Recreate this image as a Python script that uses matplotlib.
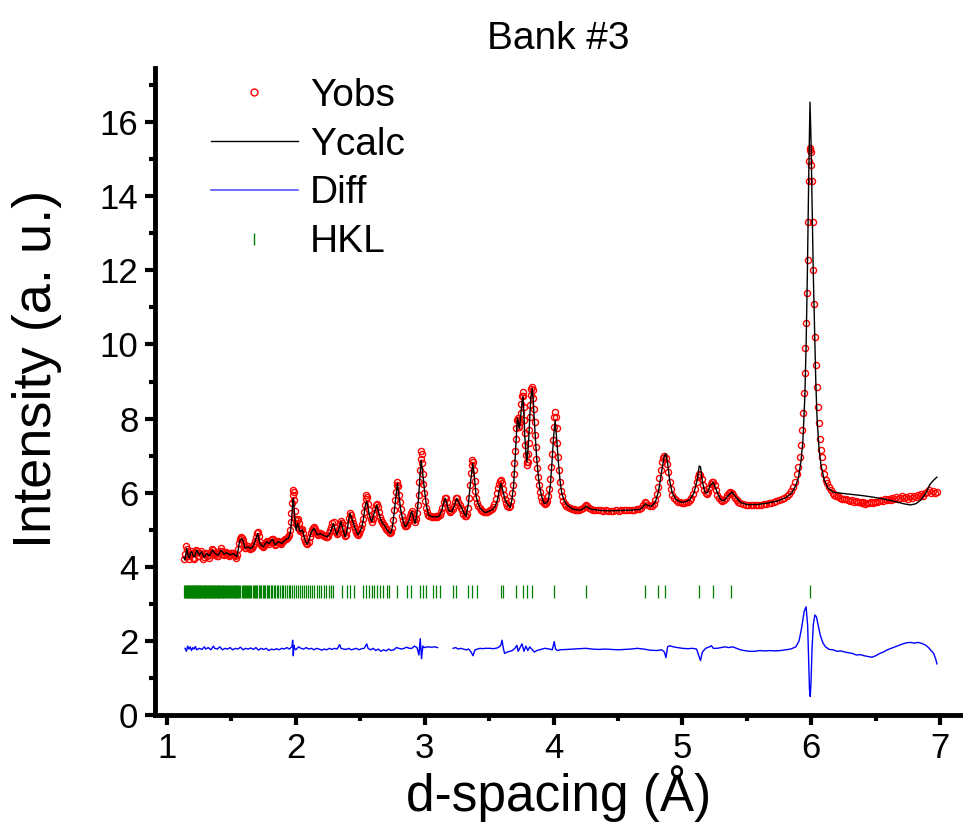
import matplotlib

matplotlib.use("Agg")
import matplotlib.pyplot as plt
import numpy as np
from matplotlib.lines import Line2D
from matplotlib.ticker import MultipleLocator

obs_points = [
    (1.130, 4.22), (1.138, 4.35), (1.146, 4.55), (1.154, 4.48), (1.162, 4.28), (1.170, 4.20),
    (1.178, 4.33), (1.186, 4.42), (1.194, 4.38), (1.202, 4.25), (1.210, 4.22), (1.218, 4.38),
    (1.226, 4.45), (1.234, 4.42), (1.242, 4.30), (1.250, 4.28), (1.258, 4.38), (1.266, 4.44),
    (1.274, 4.35), (1.282, 4.22), (1.290, 4.26), (1.298, 4.34), (1.306, 4.38), (1.314, 4.30),
    (1.322, 4.25), (1.330, 4.32), (1.338, 4.40), (1.346, 4.48), (1.354, 4.46), (1.362, 4.38),
    (1.370, 4.32), (1.378, 4.36), (1.386, 4.30), (1.394, 4.28), (1.402, 4.36), (1.410, 4.44),
    (1.418, 4.50), (1.426, 4.42), (1.434, 4.35), (1.442, 4.32), (1.450, 4.38), (1.458, 4.40),
    (1.466, 4.36), (1.474, 4.34), (1.482, 4.30), (1.490, 4.33), (1.498, 4.37), (1.506, 4.36),
    (1.514, 4.38), (1.522, 4.32), (1.530, 4.28), (1.538, 4.25), (1.546, 4.32), (1.553, 4.48),
    (1.560, 4.65), (1.567, 4.76), (1.574, 4.80), (1.581, 4.78), (1.588, 4.72), (1.595, 4.62),
    (1.602, 4.52), (1.610, 4.50), (1.618, 4.55), (1.626, 4.56), (1.634, 4.52), (1.642, 4.48),
    (1.650, 4.50), (1.658, 4.52), (1.666, 4.56), (1.674, 4.62), (1.682, 4.70), (1.690, 4.80),
    (1.697, 4.92), (1.704, 4.95), (1.711, 4.82), (1.718, 4.68), (1.726, 4.60), (1.734, 4.56),
    (1.742, 4.54), (1.750, 4.56), (1.758, 4.62), (1.766, 4.68), (1.774, 4.70), (1.782, 4.66),
    (1.790, 4.62), (1.798, 4.66), (1.806, 4.72), (1.814, 4.76), (1.822, 4.75), (1.830, 4.66),
    (1.838, 4.60), (1.846, 4.62), (1.854, 4.66), (1.862, 4.70), (1.870, 4.68), (1.878, 4.64),
    (1.886, 4.62), (1.894, 4.66), (1.902, 4.70), (1.910, 4.73), (1.918, 4.74), (1.926, 4.76),
    (1.934, 4.78), (1.942, 4.80), (1.950, 4.86), (1.956, 4.98), (1.962, 5.20), (1.966, 5.45),
    (1.970, 5.72), (1.974, 5.95), (1.978, 6.07), (1.982, 6.02), (1.986, 5.80), (1.990, 5.50),
    (1.994, 5.30), (1.999, 5.18), (2.004, 5.15), (2.010, 5.26), (2.016, 5.30), (2.022, 5.18),
    (2.028, 5.02), (2.035, 4.96), (2.042, 5.00), (2.050, 5.02), (2.058, 4.90), (2.066, 4.78),
    (2.074, 4.70), (2.082, 4.64), (2.090, 4.62), (2.098, 4.68), (2.106, 4.80), (2.114, 4.92),
    (2.122, 5.00), (2.130, 5.05), (2.138, 5.08), (2.146, 5.02), (2.154, 4.94), (2.162, 4.88),
    (2.170, 4.86), (2.180, 4.90), (2.190, 4.92), (2.200, 4.88), (2.210, 4.85), (2.220, 4.82),
    (2.230, 4.80), (2.240, 4.80), (2.250, 4.84), (2.260, 4.90), (2.268, 4.98), (2.276, 5.08),
    (2.284, 5.18), (2.292, 5.20), (2.300, 5.08), (2.308, 4.95), (2.316, 4.88), (2.324, 4.92),
    (2.332, 5.02), (2.340, 5.15), (2.348, 5.24), (2.356, 5.18), (2.364, 5.02), (2.372, 4.90),
    (2.380, 4.82), (2.388, 4.86), (2.396, 4.98), (2.404, 5.12), (2.412, 5.32), (2.420, 5.46),
    (2.428, 5.40), (2.436, 5.28), (2.444, 5.18), (2.452, 5.10), (2.460, 5.02), (2.468, 4.94),
    (2.476, 4.88), (2.484, 4.87), (2.492, 4.92), (2.500, 4.98), (2.508, 5.06), (2.516, 5.15),
    (2.524, 5.30), (2.530, 5.48), (2.536, 5.66), (2.542, 5.84), (2.548, 5.94), (2.554, 5.88),
    (2.560, 5.70), (2.566, 5.52), (2.572, 5.38), (2.580, 5.28), (2.588, 5.22), (2.596, 5.30),
    (2.604, 5.44), (2.612, 5.56), (2.620, 5.66), (2.628, 5.70), (2.636, 5.62), (2.644, 5.48),
    (2.652, 5.34), (2.660, 5.26), (2.668, 5.20), (2.676, 5.16), (2.684, 5.14), (2.692, 5.08),
    (2.700, 5.02), (2.710, 4.98), (2.720, 4.94), (2.730, 4.92), (2.740, 4.95), (2.748, 5.05),
    (2.756, 5.25), (2.764, 5.52), (2.770, 5.80), (2.776, 6.02), (2.782, 6.20), (2.788, 6.29),
    (2.794, 6.18), (2.800, 5.95), (2.806, 5.74), (2.812, 5.56), (2.820, 5.38), (2.828, 5.25),
    (2.836, 5.15), (2.844, 5.10), (2.852, 5.10), (2.860, 5.14), (2.868, 5.20), (2.876, 5.28),
    (2.884, 5.38), (2.892, 5.46), (2.900, 5.50), (2.908, 5.42), (2.916, 5.28), (2.924, 5.20),
    (2.932, 5.28), (2.940, 5.45), (2.946, 5.68), (2.952, 5.95), (2.958, 6.30), (2.963, 6.62),
    (2.968, 6.92), (2.972, 7.13), (2.976, 7.05), (2.980, 6.80), (2.985, 6.50), (2.990, 6.24),
    (2.996, 5.98), (3.002, 5.78), (3.010, 5.60), (3.018, 5.48), (3.026, 5.40), (3.036, 5.36),
    (3.046, 5.36), (3.056, 5.34), (3.066, 5.35), (3.076, 5.34), (3.086, 5.36), (3.096, 5.35),
    (3.106, 5.36), (3.116, 5.40), (3.126, 5.48), (3.136, 5.60), (3.146, 5.76), (3.154, 5.86),
    (3.162, 5.86), (3.170, 5.74), (3.178, 5.60), (3.186, 5.52), (3.196, 5.49), (3.206, 5.50),
    (3.216, 5.55), (3.226, 5.64), (3.236, 5.76), (3.246, 5.86), (3.254, 5.85), (3.262, 5.76),
    (3.270, 5.66), (3.280, 5.58), (3.290, 5.52), (3.300, 5.42), (3.310, 5.36), (3.318, 5.36),
    (3.326, 5.42), (3.334, 5.60), (3.342, 5.86), (3.350, 6.20), (3.357, 6.52), (3.364, 6.76),
    (3.370, 6.88), (3.376, 6.82), (3.382, 6.60), (3.388, 6.32), (3.394, 6.05), (3.400, 5.86),
    (3.408, 5.72), (3.416, 5.64), (3.426, 5.58), (3.436, 5.54), (3.448, 5.50), (3.460, 5.48),
    (3.472, 5.47), (3.484, 5.48), (3.496, 5.50), (3.508, 5.53), (3.520, 5.56), (3.530, 5.62),
    (3.540, 5.70), (3.550, 5.82), (3.558, 5.98), (3.566, 6.12), (3.574, 6.24), (3.582, 6.32),
    (3.590, 6.34), (3.598, 6.26), (3.606, 6.10), (3.614, 5.94), (3.622, 5.82), (3.632, 5.72),
    (3.642, 5.65), (3.652, 5.62), (3.662, 5.64), (3.670, 5.78), (3.678, 5.98), (3.684, 6.22),
    (3.690, 6.50), (3.695, 6.80), (3.700, 7.12), (3.705, 7.45), (3.710, 7.75), (3.715, 7.96),
    (3.720, 8.02), (3.725, 7.95), (3.730, 7.80), (3.735, 7.78), (3.740, 7.92), (3.745, 8.15),
    (3.750, 8.40), (3.755, 8.60), (3.760, 8.72), (3.765, 8.62), (3.770, 8.30), (3.774, 7.95),
    (3.778, 7.60), (3.782, 7.28), (3.786, 7.02), (3.790, 6.82), (3.794, 6.74), (3.798, 6.82),
    (3.802, 7.05), (3.806, 7.35), (3.810, 7.70), (3.814, 8.05), (3.818, 8.38), (3.822, 8.64),
    (3.827, 8.80), (3.832, 8.86), (3.837, 8.78), (3.842, 8.55), (3.847, 8.25), (3.852, 7.90),
    (3.857, 7.55), (3.862, 7.22), (3.867, 6.92), (3.872, 6.66), (3.878, 6.42), (3.885, 6.20),
    (3.893, 6.02), (3.902, 5.88), (3.912, 5.78), (3.922, 5.72), (3.932, 5.70), (3.942, 5.72),
    (3.952, 5.78), (3.960, 5.90), (3.968, 6.10), (3.975, 6.38), (3.982, 6.70), (3.988, 7.05),
    (3.994, 7.42), (4.000, 7.78), (4.006, 8.05), (4.012, 8.18), (4.018, 8.05), (4.024, 7.75),
    (4.030, 7.35), (4.036, 6.95), (4.042, 6.60), (4.050, 6.28), (4.058, 6.05), (4.066, 5.90),
    (4.076, 5.78), (4.086, 5.70), (4.098, 5.65), (4.110, 5.61), (4.125, 5.58), (4.140, 5.56),
    (4.155, 5.55), (4.170, 5.54), (4.185, 5.54), (4.200, 5.54), (4.215, 5.55), (4.230, 5.58),
    (4.242, 5.63), (4.252, 5.66), (4.262, 5.64), (4.274, 5.59), (4.288, 5.56), (4.305, 5.54),
    (4.325, 5.53), (4.345, 5.52), (4.365, 5.52), (4.385, 5.51), (4.405, 5.52), (4.425, 5.51),
    (4.445, 5.50), (4.465, 5.51), (4.485, 5.52), (4.505, 5.51), (4.525, 5.52), (4.545, 5.52),
    (4.565, 5.53), (4.585, 5.52), (4.605, 5.53), (4.625, 5.54), (4.645, 5.55), (4.665, 5.56),
    (4.680, 5.60), (4.695, 5.68), (4.708, 5.74), (4.720, 5.72), (4.735, 5.66), (4.750, 5.63),
    (4.765, 5.64), (4.778, 5.70), (4.790, 5.80), (4.800, 5.96), (4.810, 6.16), (4.820, 6.40),
    (4.830, 6.62), (4.840, 6.82), (4.850, 6.94), (4.860, 6.98), (4.870, 6.94), (4.880, 6.78),
    (4.890, 6.55), (4.900, 6.30), (4.910, 6.10), (4.922, 5.95), (4.935, 5.85), (4.950, 5.80),
    (4.965, 5.76), (4.980, 5.74), (4.995, 5.72), (5.010, 5.72), (5.025, 5.74), (5.040, 5.76),
    (5.055, 5.80), (5.070, 5.86), (5.085, 5.96), (5.098, 6.10), (5.110, 6.28), (5.120, 6.42),
    (5.130, 6.50), (5.140, 6.48), (5.150, 6.36), (5.160, 6.20), (5.170, 6.06), (5.180, 5.98),
    (5.190, 5.96), (5.200, 6.02), (5.210, 6.14), (5.220, 6.24), (5.230, 6.29), (5.240, 6.28),
    (5.250, 6.20), (5.260, 6.08), (5.272, 5.95), (5.285, 5.86), (5.298, 5.80), (5.310, 5.78),
    (5.322, 5.80), (5.335, 5.86), (5.348, 5.94), (5.360, 6.00), (5.372, 6.02), (5.384, 6.00),
    (5.396, 5.94), (5.408, 5.86), (5.420, 5.80), (5.435, 5.75), (5.450, 5.72), (5.470, 5.70),
    (5.490, 5.68), (5.510, 5.67), (5.530, 5.66), (5.550, 5.67), (5.570, 5.67), (5.590, 5.68),
    (5.610, 5.68), (5.630, 5.69), (5.650, 5.70), (5.670, 5.71), (5.690, 5.73), (5.710, 5.75),
    (5.730, 5.77), (5.750, 5.80), (5.770, 5.83), (5.790, 5.86), (5.810, 5.90), (5.828, 5.96),
    (5.845, 6.04), (5.860, 6.15), (5.875, 6.30), (5.890, 6.50), (5.900, 6.70), (5.910, 6.96),
    (5.920, 7.30), (5.928, 7.70), (5.935, 8.15), (5.942, 8.70), (5.949, 9.22), (5.955, 9.90),
    (5.961, 10.58), (5.967, 11.40), (5.972, 12.28), (5.977, 13.30), (5.981, 14.40), (5.985, 14.95),
    (5.989, 15.25), (5.993, 15.30), (5.997, 15.20), (6.001, 14.85), (6.006, 14.40), (6.011, 13.30),
    (6.016, 12.00), (6.022, 11.10), (6.028, 10.20), (6.035, 9.45), (6.042, 8.85), (6.050, 8.30),
    (6.058, 7.88), (6.066, 7.45), (6.074, 7.15), (6.082, 6.96), (6.092, 6.70), (6.102, 6.50),
    (6.112, 6.35), (6.122, 6.26), (6.135, 6.15), (6.150, 6.06), (6.165, 5.98), (6.180, 5.94),
    (6.195, 5.92), (6.210, 5.90), (6.225, 5.86), (6.240, 5.84), (6.255, 5.82), (6.270, 5.84),
    (6.285, 5.80), (6.300, 5.78), (6.315, 5.80), (6.330, 5.76), (6.345, 5.78), (6.360, 5.74),
    (6.375, 5.76), (6.390, 5.72), (6.405, 5.74), (6.420, 5.70), (6.435, 5.73), (6.450, 5.71),
    (6.465, 5.75), (6.480, 5.72), (6.495, 5.76), (6.510, 5.74), (6.525, 5.78), (6.540, 5.80),
    (6.555, 5.77), (6.570, 5.82), (6.585, 5.80), (6.600, 5.84), (6.615, 5.81), (6.630, 5.86),
    (6.645, 5.83), (6.660, 5.88), (6.675, 5.84), (6.690, 5.86), (6.705, 5.90), (6.720, 5.86),
    (6.735, 5.88), (6.750, 5.84), (6.765, 5.90), (6.780, 5.87), (6.795, 5.92), (6.810, 5.88),
    (6.825, 5.94), (6.840, 5.90), (6.855, 5.96), (6.870, 5.92), (6.885, 5.98), (6.900, 6.02),
    (6.915, 6.06), (6.930, 6.00), (6.945, 6.04), (6.960, 5.98), (6.975, 6.02),
]

# calculated profile
calc_points = [
    (1.130, 4.25), (1.140, 4.18), (1.153, 4.50), (1.163, 4.30), (1.173, 4.24), (1.182, 4.38),
    (1.192, 4.41), (1.202, 4.30), (1.212, 4.27), (1.222, 4.36), (1.231, 4.45), (1.241, 4.38),
    (1.251, 4.32), (1.260, 4.36), (1.269, 4.41), (1.278, 4.33), (1.287, 4.25), (1.298, 4.31),
    (1.308, 4.36), (1.318, 4.33), (1.328, 4.29), (1.340, 4.37), (1.352, 4.45), (1.362, 4.41),
    (1.373, 4.36), (1.386, 4.33), (1.398, 4.32), (1.408, 4.38), (1.419, 4.45), (1.431, 4.40),
    (1.443, 4.34), (1.453, 4.36), (1.463, 4.38), (1.476, 4.35), (1.489, 4.32), (1.502, 4.34),
    (1.515, 4.36), (1.528, 4.32), (1.541, 4.27), (1.552, 4.45), (1.560, 4.62), (1.567, 4.72),
    (1.578, 4.76), (1.588, 4.72), (1.597, 4.60), (1.606, 4.50), (1.618, 4.52), (1.631, 4.54),
    (1.645, 4.50), (1.658, 4.50), (1.670, 4.58), (1.683, 4.68), (1.694, 4.80), (1.704, 4.90),
    (1.713, 4.75), (1.722, 4.63), (1.735, 4.57), (1.748, 4.54), (1.761, 4.62), (1.774, 4.68),
    (1.784, 4.64), (1.794, 4.63), (1.807, 4.70), (1.820, 4.74), (1.830, 4.65), (1.839, 4.59),
    (1.852, 4.64), (1.864, 4.68), (1.878, 4.65), (1.891, 4.63), (1.904, 4.68), (1.916, 4.72),
    (1.929, 4.75), (1.942, 4.77), (1.952, 4.85), (1.960, 4.99), (1.967, 5.30), (1.973, 5.62),
    (1.977, 5.80), (1.981, 5.85), (1.986, 5.60), (1.991, 5.35), (1.997, 5.10), (2.002, 4.99),
    (2.008, 5.10), (2.015, 5.17), (2.024, 5.05), (2.033, 4.95), (2.042, 4.98), (2.051, 4.99),
    (2.061, 4.85), (2.071, 4.72), (2.080, 4.65), (2.089, 4.61), (2.102, 4.72), (2.116, 4.90),
    (2.128, 4.98), (2.141, 5.04), (2.154, 4.95), (2.167, 4.86), (2.178, 4.88), (2.188, 4.90),
    (2.214, 4.85), (2.240, 4.81), (2.256, 4.86), (2.271, 4.95), (2.282, 5.08), (2.291, 5.17),
    (2.305, 5.00), (2.318, 4.86), (2.334, 5.02), (2.349, 5.22), (2.366, 5.00), (2.382, 4.81),
    (2.391, 4.90), (2.400, 5.04), (2.411, 5.30), (2.421, 5.44), (2.434, 5.30), (2.447, 5.17),
    (2.464, 5.00), (2.481, 4.86), (2.497, 4.95), (2.512, 5.08), (2.525, 5.30), (2.537, 5.62),
    (2.544, 5.72), (2.550, 5.76), (2.559, 5.62), (2.568, 5.44), (2.578, 5.30), (2.589, 5.22),
    (2.608, 5.45), (2.628, 5.67), (2.644, 5.45), (2.659, 5.26), (2.672, 5.18), (2.685, 5.13),
    (2.698, 5.05), (2.710, 4.99), (2.724, 4.93), (2.737, 4.90), (2.750, 5.10), (2.762, 5.44),
    (2.775, 5.85), (2.788, 6.25), (2.801, 5.90), (2.814, 5.53), (2.831, 5.25), (2.848, 5.08),
    (2.864, 5.15), (2.879, 5.26), (2.890, 5.40), (2.900, 5.49), (2.912, 5.32), (2.925, 5.17),
    (2.938, 5.40), (2.951, 5.80), (2.962, 6.40), (2.972, 6.88), (2.985, 6.50), (2.998, 6.07),
    (3.013, 5.65), (3.029, 5.40), (3.048, 5.36), (3.068, 5.35), (3.088, 5.35), (3.107, 5.35),
    (3.120, 5.42), (3.133, 5.53), (3.146, 5.72), (3.159, 5.85), (3.172, 5.70), (3.184, 5.53),
    (3.197, 5.50), (3.210, 5.49), (3.230, 5.65), (3.249, 5.85), (3.268, 5.70), (3.288, 5.58),
    (3.305, 5.45), (3.320, 5.36), (3.339, 5.71), (3.356, 6.30), (3.373, 6.79), (3.386, 6.40),
    (3.399, 5.89), (3.415, 5.70), (3.430, 5.58), (3.469, 5.46), (3.521, 5.53), (3.545, 5.62),
    (3.564, 5.80), (3.578, 6.05), (3.591, 6.25), (3.607, 6.05), (3.624, 5.80), (3.644, 5.68),
    (3.663, 5.60), (3.676, 5.80), (3.689, 6.16), (3.704, 7.06), (3.712, 7.60), (3.720, 8.01),
    (3.728, 7.85), (3.735, 7.74), (3.743, 8.00), (3.751, 8.32), (3.757, 8.50), (3.762, 8.59),
    (3.770, 8.10), (3.777, 7.51), (3.785, 7.10), (3.793, 6.83), (3.800, 7.10), (3.808, 7.51),
    (3.816, 8.10), (3.824, 8.59), (3.834, 8.81), (3.842, 8.50), (3.849, 8.05), (3.860, 7.40),
    (3.870, 6.88), (3.883, 6.40), (3.896, 6.07), (3.912, 5.85), (3.927, 5.71), (3.944, 5.72),
    (3.960, 5.80), (3.975, 6.20), (3.987, 6.79), (4.000, 7.50), (4.012, 7.96), (4.025, 7.40),
    (4.038, 6.79), (4.051, 6.30), (4.064, 5.98), (4.083, 5.78), (4.103, 5.67), (4.130, 5.60),
    (4.155, 5.55), (4.207, 5.53), (4.232, 5.57), (4.253, 5.64), (4.275, 5.58), (4.297, 5.55),
    (4.370, 5.52), (4.439, 5.51), (4.520, 5.52), (4.600, 5.53), (4.672, 5.55), (4.695, 5.62),
    (4.710, 5.70), (4.730, 5.66), (4.760, 5.63), (4.790, 5.75), (4.815, 6.05), (4.840, 6.60),
    (4.860, 7.00), (4.870, 7.05), (4.885, 6.80), (4.900, 6.35), (4.920, 6.00), (4.950, 5.82),
    (4.990, 5.74), (5.030, 5.76), (5.060, 5.82), (5.090, 6.00), (5.115, 6.35), (5.130, 6.72),
    (5.140, 6.70), (5.155, 6.30), (5.175, 6.00), (5.195, 6.00), (5.215, 6.20), (5.240, 6.28),
    (5.265, 6.05), (5.295, 5.82), (5.320, 5.78), (5.350, 5.90), (5.385, 6.02), (5.415, 5.88),
    (5.450, 5.74), (5.500, 5.68), (5.580, 5.68), (5.660, 5.72), (5.740, 5.78), (5.800, 5.86),
    (5.850, 6.00), (5.880, 6.20), (5.900, 6.40), (5.920, 6.85), (5.935, 7.40), (5.950, 8.60),
    (5.960, 10.00), (5.970, 12.00), (5.980, 14.50), (5.990, 16.54), (5.998, 15.50), (6.006, 13.80),
    (6.015, 12.00), (6.025, 10.50), (6.035, 9.00), (6.045, 8.00), (6.060, 7.20), (6.075, 6.75),
    (6.100, 6.35), (6.130, 6.12), (6.170, 6.02), (6.220, 5.99), (6.300, 5.96), (6.400, 5.92),
    (6.480, 5.88), (6.560, 5.83), (6.640, 5.77), (6.720, 5.70), (6.770, 5.67), (6.810, 5.70),
    (6.850, 5.80), (6.890, 6.00), (6.920, 6.22), (6.950, 6.34), (6.975, 6.42),
]

# difference curve (offset), NaN marks the gap in the trace
diff_points = [
    (1.14, 1.80), (1.15, 1.72), (1.16, 1.86), (1.17, 1.78), (1.18, 1.84), (1.19, 1.74),
    (1.20, 1.82), (1.21, 1.78), (1.22, 1.85), (1.23, 1.76), (1.25, 1.80), (1.27, 1.77),
    (1.29, 1.84), (1.30, 1.78), (1.32, 1.82), (1.34, 1.76), (1.36, 1.86), (1.37, 1.80),
    (1.39, 1.78), (1.41, 1.84), (1.43, 1.76), (1.45, 1.80), (1.47, 1.78), (1.49, 1.82),
    (1.51, 1.76), (1.53, 1.80), (1.55, 1.78), (1.57, 1.83), (1.59, 1.76), (1.61, 1.80),
    (1.63, 1.78), (1.65, 1.81), (1.67, 1.77), (1.69, 1.82), (1.71, 1.75), (1.73, 1.80),
    (1.75, 1.77), (1.77, 1.80), (1.79, 1.74), (1.81, 1.78), (1.83, 1.76), (1.85, 1.79),
    (1.87, 1.76), (1.89, 1.80), (1.91, 1.78), (1.93, 1.82), (1.95, 1.78), (1.97, 1.85),
    (1.975, 2.02), (1.980, 1.60), (1.985, 1.88), (1.99, 1.80), (2.00, 1.76), (2.02, 1.84),
    (2.04, 1.80), (2.06, 1.78), (2.08, 1.82), (2.10, 1.78), (2.12, 1.80), (2.14, 1.76),
    (2.16, 1.80), (2.18, 1.78), (2.20, 1.75), (2.22, 1.78), (2.24, 1.76), (2.26, 1.80),
    (2.28, 1.77), (2.30, 1.80), (2.32, 1.78), (2.34, 1.90), (2.35, 1.80), (2.37, 1.78),
    (2.39, 1.77), (2.41, 1.80), (2.43, 1.76), (2.45, 1.78), (2.47, 1.80), (2.49, 1.76),
    (2.51, 1.79), (2.53, 1.80), (2.55, 1.92), (2.56, 1.80), (2.58, 1.76), (2.60, 1.80),
    (2.62, 1.74), (2.64, 1.78), (2.66, 1.72), (2.68, 1.76), (2.70, 1.73), (2.72, 1.78),
    (2.74, 1.74), (2.76, 1.76), (2.78, 1.82), (2.80, 1.80), (2.82, 1.78), (2.84, 1.80),
    (2.86, 1.83), (2.88, 1.80), (2.90, 1.80), (2.92, 1.86), (2.940, 1.82), (2.955, 1.62),
    (2.965, 2.06), (2.975, 1.52), (2.985, 1.86), (2.995, 1.82), (3.02, 1.84), (3.05, 1.83),
    (3.08, 1.84), (3.10, 1.82), (3.16, np.nan), (3.22, 1.80), (3.24, 1.82), (3.26, 1.78),
    (3.28, 1.80), (3.30, 1.78), (3.32, 1.76), (3.34, 1.78), (3.36, 1.70), (3.375, 1.60),
    (3.39, 1.76), (3.41, 1.78), (3.43, 1.80), (3.45, 1.79), (3.47, 1.80), (3.49, 1.80),
    (3.51, 1.80), (3.53, 1.79), (3.55, 1.80), (3.57, 1.82), (3.59, 1.88), (3.600, 2.02),
    (3.610, 1.80), (3.62, 1.66), (3.64, 1.70), (3.66, 1.72), (3.68, 1.74), (3.70, 1.80),
    (3.715, 1.88), (3.725, 1.72), (3.74, 1.82), (3.755, 1.92), (3.77, 1.72), (3.785, 1.86),
    (3.80, 1.74), (3.815, 1.84), (3.83, 1.78), (3.85, 1.70), (3.87, 1.74), (3.89, 1.76),
    (3.91, 1.78), (3.93, 1.80), (3.95, 1.79), (3.97, 1.78), (3.99, 1.76), (4.005, 1.98),
    (4.015, 1.78), (4.03, 1.74), (4.05, 1.76), (4.10, 1.77), (4.15, 1.78), (4.20, 1.79),
    (4.25, 1.80), (4.30, 1.78), (4.35, 1.77), (4.40, 1.78), (4.45, 1.77), (4.50, 1.76),
    (4.55, 1.77), (4.60, 1.78), (4.65, 1.80), (4.70, 1.78), (4.75, 1.75), (4.80, 1.74),
    (4.84, 1.76), (4.860, 1.70), (4.872, 1.55), (4.885, 1.84), (4.90, 1.87), (4.93, 1.84),
    (4.96, 1.82), (5.00, 1.80), (5.04, 1.79), (5.08, 1.80), (5.11, 1.78), (5.125, 1.62),
    (5.140, 1.47), (5.155, 1.70), (5.18, 1.80), (5.21, 1.84), (5.225, 1.87), (5.24, 1.80),
    (5.27, 1.80), (5.30, 1.82), (5.33, 1.84), (5.36, 1.82), (5.39, 1.84), (5.42, 1.80),
    (5.45, 1.76), (5.48, 1.74), (5.52, 1.72), (5.56, 1.72), (5.60, 1.74), (5.64, 1.73),
    (5.68, 1.74), (5.72, 1.73), (5.76, 1.74), (5.80, 1.76), (5.84, 1.78), (5.88, 1.84),
    (5.905, 2.00), (5.925, 2.35), (5.945, 2.80), (5.960, 2.92), (5.972, 2.40), (5.980, 1.40),
    (5.986, 0.70), (5.992, 0.50), (5.998, 0.90), (6.006, 1.80), (6.016, 2.45), (6.028, 2.70),
    (6.040, 2.65), (6.055, 2.40), (6.070, 2.15), (6.090, 1.95), (6.110, 1.84), (6.140, 1.77),
    (6.170, 1.76), (6.200, 1.72), (6.230, 1.73), (6.260, 1.70), (6.290, 1.68), (6.320, 1.66),
    (6.350, 1.62), (6.380, 1.63), (6.410, 1.60), (6.440, 1.58), (6.470, 1.56), (6.500, 1.60),
    (6.530, 1.66), (6.560, 1.70), (6.590, 1.76), (6.620, 1.80), (6.650, 1.84), (6.680, 1.88),
    (6.710, 1.92), (6.740, 1.95), (6.770, 1.96), (6.800, 1.94), (6.830, 1.96), (6.860, 1.93),
    (6.890, 1.88), (6.910, 1.82), (6.930, 1.74), (6.950, 1.66), (6.965, 1.52), (6.975, 1.38),
]

# reflection positions
hkl_d = [
    1.135, 1.140, 1.146, 1.151, 1.156, 1.160, 1.165, 1.171, 1.176, 1.180, 1.186, 1.191,
    1.196, 1.201, 1.206, 1.211, 1.217, 1.222, 1.227, 1.232, 1.238, 1.243, 1.248, 1.254,
    1.259, 1.265, 1.270, 1.276, 1.281, 1.287, 1.292, 1.298, 1.304, 1.309, 1.315, 1.321,
    1.327, 1.332, 1.338, 1.344, 1.350, 1.356, 1.362, 1.368, 1.374, 1.380, 1.387, 1.393,
    1.399, 1.406, 1.412, 1.419, 1.425, 1.432, 1.438, 1.445, 1.452, 1.459, 1.466, 1.473,
    1.480, 1.487, 1.494, 1.501, 1.509, 1.516, 1.524, 1.531, 1.539, 1.546, 1.554, 1.562,
    1.570, 1.578, 1.586, 1.594, 1.603, 1.611, 1.620, 1.628, 1.637, 1.646, 1.655, 1.664,
    1.673, 1.683, 1.692, 1.702, 1.711, 1.721, 1.731, 1.742, 1.752, 1.763, 1.773, 1.784,
    1.795, 1.806, 1.818, 1.829, 1.841, 1.853, 1.865, 1.878, 1.890, 1.903, 1.916, 1.930,
    1.943, 1.957, 1.971, 1.985, 2.000, 2.015, 2.030, 2.045, 2.061, 2.077, 2.093, 2.110,
    2.127, 2.144, 2.162, 2.180, 2.198, 2.217, 2.236, 2.255, 2.275, 2.291, 2.356, 2.395,
    2.421, 2.452, 2.524, 2.545, 2.566, 2.589, 2.607, 2.628, 2.654, 2.680, 2.706, 2.726,
    2.788, 2.861, 2.894, 2.964, 2.985, 3.006, 3.068, 3.089, 3.115, 3.218, 3.244, 3.339,
    3.366, 3.409, 3.591, 3.606, 3.710, 3.762, 3.797, 3.831, 4.005, 4.253, 4.706, 4.810,
    4.861, 5.130, 5.234, 5.377, 5.987,
]
hkl_low, hkl_high = 3.16, 3.51

plt.rcParams["font.family"] = ["Liberation Sans", "DejaVu Sans"]

obs_d, obs_i = zip(*obs_points)
calc_d, calc_i = zip(*calc_points)
diff_d, diff_i = zip(*diff_points)

fig = plt.figure(figsize=(9.63, 8.27), dpi=100)
ax = fig.add_axes([0.161, 0.1354, 0.838, 0.7823])

ax.plot(obs_d, obs_i, linestyle="none", marker="o", markersize=4.4,
        markerfacecolor="none", markeredgecolor="red", markeredgewidth=1.0)
ax.plot(calc_d, calc_i, color="black", linewidth=1.0)
ax.plot(diff_d, diff_i, color="blue", linewidth=1.0)
ax.vlines(hkl_d, hkl_low, hkl_high, color="green", linewidth=0.9)

ax.set_xlim(0.907, 7.17)
ax.set_ylim(0, 17.46)
ax.xaxis.set_major_locator(MultipleLocator(1))
ax.xaxis.set_minor_locator(MultipleLocator(0.5))
ax.yaxis.set_major_locator(MultipleLocator(2))
ax.yaxis.set_minor_locator(MultipleLocator(1))

for side in ["top", "right"]:
    ax.spines[side].set_visible(False)
for side in ["left", "bottom"]:
    ax.spines[side].set_linewidth(3.5)

ax.tick_params(which="major", direction="out", length=7, width=3, pad=5,
               labelsize=25)
ax.tick_params(which="minor", direction="out", length=4, width=3)

ax.set_xlabel("d-spacing (Å)", fontsize=37, labelpad=0)
ax.set_ylabel("Intensity (a. u.)", fontsize=39)
ax.yaxis.set_label_coords(-0.115, 0.535)
ax.set_title("Bank #3", fontsize=28, pad=14)

handles = [
    Line2D([], [], linestyle="none", marker="o", markersize=5,
           markerfacecolor="none", markeredgecolor="red", markeredgewidth=1.0),
    Line2D([], [], color="black", linewidth=1.0),
    Line2D([], [], color="#5555ff", linewidth=1.2),
    Line2D([], [], linestyle="none", marker="|", markersize=9, color="green",
           markeredgewidth=1.0),
]
ax.legend(handles, ["Yobs", "Ycalc", "Diff", "HKL"], loc="upper left",
          bbox_to_anchor=(0.035, 1.027), frameon=False, fontsize=28,
          handlelength=2.25, handletextpad=0.3, labelspacing=0.33, borderpad=0.2)

fig.savefig("out.png", dpi=100)
